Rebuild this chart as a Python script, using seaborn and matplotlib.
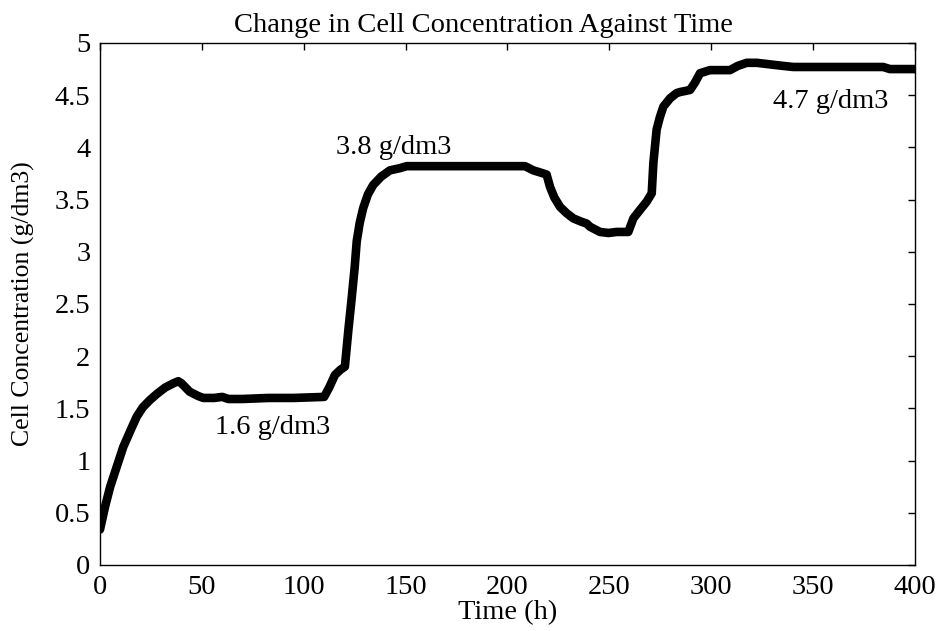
import matplotlib
matplotlib.use("Agg")
import matplotlib.pyplot as plt
import seaborn as sns
import pandas as pd

time_h = [0, 2.5, 5, 8.2, 11.4, 15, 18, 21, 24.5, 28, 32, 36, 38.4, 40, 44, 48, 50.7, 56, 60, 63,
          70, 82.7, 95, 110, 112.5, 115.3, 118, 120.2, 121.9, 123.5, 125, 126, 127.5, 129.2, 131.5,
          134.1, 138, 142.3, 147, 150.5, 157, 180, 208.6, 212.7, 216, 219.2, 220.9, 223, 225.8,
          229, 232.3, 236, 238.9, 240.5, 245.4, 249.5, 253.6, 259.3, 261.8, 265, 268.3, 270.8,
          271.6, 273.2, 274.8, 276.5, 279.8, 283, 284.7, 289.6, 292, 294.5, 299.4, 309.2, 313,
          317.4, 322.3, 335.4, 340.3, 384.4, 387.7, 400]
conc = [0.34, 0.56, 0.75, 0.94, 1.13, 1.29, 1.42, 1.51, 1.58, 1.64, 1.70, 1.74, 1.76, 1.74, 1.66,
        1.62, 1.60, 1.60, 1.61, 1.59, 1.59, 1.60, 1.60, 1.61, 1.70, 1.82, 1.87, 1.90, 2.25, 2.55,
        2.85, 3.10, 3.28, 3.42, 3.55, 3.64, 3.72, 3.78, 3.80, 3.82, 3.82, 3.82, 3.82, 3.78, 3.76,
        3.74, 3.62, 3.52, 3.43, 3.37, 3.32, 3.29, 3.27, 3.24, 3.19, 3.18, 3.19, 3.19, 3.32, 3.40,
        3.48, 3.56, 3.85, 4.17, 4.29, 4.39, 4.47, 4.52, 4.53, 4.55, 4.62, 4.71, 4.74, 4.74, 4.78,
        4.81, 4.81, 4.78, 4.77, 4.77, 4.75, 4.75]

labels = ["1.6 g/dm3", "3.8 g/dm3", "4.7 g/dm3"]
label_x = [56.5, 116, 330.5]
label_y = [1.32, 4.0, 4.44]

df = pd.DataFrame({"Time (h)": time_h, "Conc": conc})

sns.set_style("white")
plt.rcParams["font.family"] = ["Liberation Serif", "DejaVu Serif"]
plt.rcParams["text.color"] = "black"
plt.rcParams["axes.labelcolor"] = "black"

FS = 20.5

fig = plt.figure(figsize=(9.39, 6.31), dpi=100)
ax = fig.add_axes([0.1065, 0.1046, 0.8679, 0.8273])
sns.lineplot(data=df, x="Time (h)", y="Conc", ax=ax, color="black", linewidth=6.2,
             solid_joinstyle="round", solid_capstyle="round")

for txt, x, y in zip(labels, label_x, label_y):
    ax.text(x, y, txt, fontsize=FS, ha="left", va="center", color="black")

ax.set_xlim(0, 400)
ax.set_ylim(0, 5)
ax.set_xticks(range(0, 401, 50))
ax.set_yticks([0, 0.5, 1, 1.5, 2, 2.5, 3, 3.5, 4, 4.5, 5])
ax.set_yticklabels(["0", "0.5", "1", "1.5", "2", "2.5", "3", "3.5", "4", "4.5", "5"])
ax.tick_params(direction="in", length=5, width=1, top=True, right=True, labelsize=FS,
               colors="black")
ax.tick_params(axis="x", pad=7)
ax.tick_params(axis="y", pad=7)
for s in ax.spines.values():
    s.set_visible(True)
    s.set_color("black")
    s.set_linewidth(1)
ax.set_xlabel("Time (h)", fontsize=FS, labelpad=0)
ax.set_ylabel("Cell Concentration (g/dm3)", fontsize=18.5, labelpad=14)
ax.set_title("Change in Cell Concentration Against Time", fontsize=FS, pad=8, color="black",
             x=0.47)

fig.savefig("out.png", dpi=100)
